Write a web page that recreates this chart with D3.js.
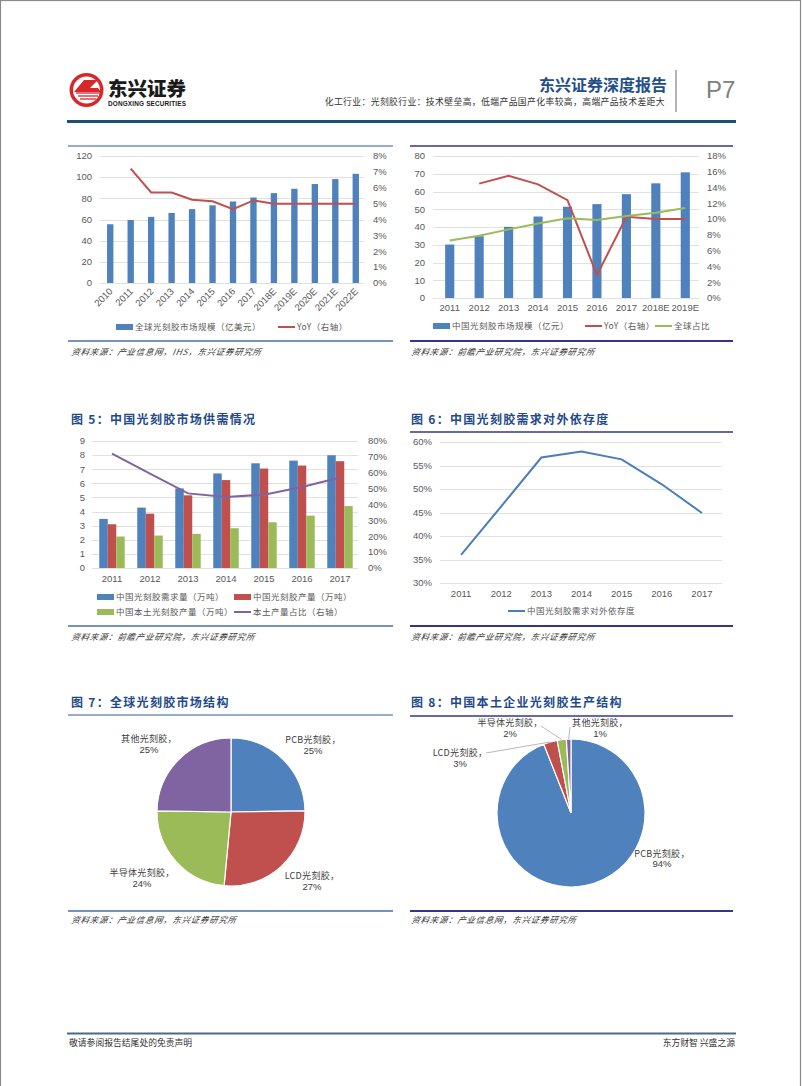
<!DOCTYPE html>
<html><head><meta charset="utf-8">
<script src="https://cdn.jsdelivr.net/npm/d3@7"></script>
<style>
body{margin:0;background:#fff}
svg{display:block}
text{font-family:"Liberation Sans",Arial,sans-serif}
.cjk{font-family:"Noto Sans CJK SC","Noto Sans",sans-serif}
</style></head><body>
<svg id="page" width="802" height="1086"></svg>
<script>
// ---------------- DATA ----------------
const c1Years = ["2010","2011","2012","2013","2014","2015","2016","2017","2018E","2019E","2020E","2021E","2022E"];
const c1Market = [55.5,59.5,62.5,66.2,69.8,73.4,77,80.8,84.9,89,93.5,98.2,103.2];
const c1YoY = [null,7.2,5.7,5.7,5.25,5.15,4.65,5.2,5.0,5.0,5.0,5.0,5.0];
const c1LeftTicks = [0,20,40,60,80,100,120];
const c1RightTicks = [0,1,2,3,4,5,6,7,8];

const c2Years = ["2011","2012","2013","2014","2015","2016","2017","2018E","2019E"];
const c2Market = [30.1,34.8,40.1,45.9,51.4,52.9,58.5,64.6,70.8];
const c2YoY = [null,14.5,15.5,14.4,12.4,2.9,10.3,10.0,10.0];
const c2Share = [7.3,7.9,8.7,9.45,10.1,9.9,10.4,10.8,11.4];
const c2LeftTicks = [0,10,20,30,40,50,60,70,80];
const c2RightTicks = [0,2,4,6,8,10,12,14,16,18];

const c5Years = ["2011","2012","2013","2014","2015","2016","2017"];
const c5Demand = [3.48,4.28,5.64,6.70,7.42,7.61,7.99];
const c5Output = [3.10,3.85,5.15,6.23,7.05,7.26,7.57];
const c5Local = [2.23,2.30,2.42,2.82,3.24,3.71,4.39];
const c5LocalShare = [72,59.5,47,44.8,46.2,51,57];
const c5LeftTicks = [0,1,2,3,4,5,6,7,8,9];
const c5RightTicks = [0,10,20,30,40,50,60,70,80];

const c6Years = ["2011","2012","2013","2014","2015","2016","2017"];
const c6Dependence = [36.0,46.3,56.7,58.0,56.3,51.0,44.9];
const c6Ticks = [30,35,40,45,50,55,60];

const c7Labels = ["PCB光刻胶","LCD光刻胶","半导体光刻胶","其他光刻胶"];
const c7Values = [25,27,24,25];
const c8Labels = ["PCB光刻胶","LCD光刻胶","半导体光刻胶","其他光刻胶"];
const c8Values = [94,3,2,1];

// ---------------- STYLE ----------------
const BLUE="#4f81bd", RED="#c0504d", GREEN="#9bbb59", PURPLE="#8064a2";
const GRID="#d9d9d9", TICK="#595959", LEGEND="#595959";
const LEFTLINE="#7393bb", RIGHTLINE="#35358f", TITLE="#1f4a8a";

const svg = d3.select("#page");

// page border
svg.append("rect").attr("x",0.5).attr("y",0.5).attr("width",800).attr("height",1100)
  .attr("fill","none").attr("stroke","#8a8a8a").attr("stroke-width",1.2);

// ---------------- HEADER ----------------
const logo = svg.append("g");
logo.append("circle").attr("cx",86.5).attr("cy",90).attr("r",17).attr("fill","#d9262a");
logo.append("circle").attr("cx",86.5).attr("cy",90).attr("r",13.5).attr("fill","#fff");
logo.append("path").attr("d","M74,92 L84,80 L98,80 L90,88 L98,88 L101,92 Z").attr("fill","#d9262a");
[0,1,2].forEach(i=>{
  logo.append("line").attr("x1",76+i*2).attr("y1",93+i*3).attr("x2",100-i*2).attr("y2",93+i*3)
    .attr("stroke","#d9262a").attr("stroke-width",1.3);
});
svg.append("text").attr("class","cjk").attr("x",108).attr("y",96).attr("font-size",19.5)
  .attr("font-weight",900).attr("fill","#1a1a1a").text("东兴证券");
svg.append("text").attr("x",108).attr("y",106).attr("font-size",6.4).attr("font-weight","bold")
  .attr("fill","#1a1a1a").attr("textLength",78).text("DONGXING SECURITIES");

svg.append("text").attr("class","cjk").attr("x",667).attr("y",91).attr("text-anchor","end")
  .attr("font-size",16).attr("font-weight",700).attr("fill","#1f4e8c").text("东兴证券深度报告");
svg.append("text").attr("class","cjk").attr("x",665).attr("y",105).attr("text-anchor","end")
  .attr("font-size",8.8).attr("fill","#333").attr("letter-spacing",0.4)
  .text("化工行业：光刻胶行业：技术壁垒高，低端产品国产化率较高，高端产品技术差距大");
svg.append("line").attr("x1",676).attr("x2",676).attr("y1",70).attr("y2",112)
  .attr("stroke","#9a9a9a").attr("stroke-width",1.5);
svg.append("text").attr("x",706).attr("y",98).attr("font-size",24).attr("fill","#808080")
  .attr("font-family","'Open Sans',sans-serif").attr("font-weight",300).text("P7");
svg.append("line").attr("x1",67).attr("x2",736).attr("y1",121.5).attr("y2",121.5)
  .attr("stroke","#1f4e79").attr("stroke-width",3);

// ---------------- HELPERS ----------------
function hline(x1,x2,y,color,w){
  svg.append("line").attr("x1",x1).attr("x2",x2).attr("y1",y).attr("y2",y)
    .attr("stroke",color).attr("stroke-width",w);
}
function title(x,y,t){
  svg.append("text").attr("class","cjk").attr("x",x).attr("y",y).attr("font-size",12)
    .attr("font-weight",700).attr("fill",TITLE).attr("letter-spacing",1.3).text(t);
}
function source(x,y,t){
  svg.append("text").attr("class","cjk").attr("x",x).attr("y",y).attr("font-size",8.5)
    .attr("font-style","italic").attr("fill","#333").attr("letter-spacing",0.7)
    .attr("transform",`skewX(-10)`).attr("transform-origin",`${x} ${y}`).text(t);
}
function grid(ticks,y,x1,x2){
  svg.append("g").selectAll("line").data(ticks).join("line")
    .attr("x1",x1).attr("x2",x2).attr("y1",d=>Math.round(y(d))+0.5).attr("y2",d=>Math.round(y(d))+0.5)
    .attr("stroke",GRID).attr("stroke-width",0.8);
}
function yLabels(ticks,y,x,anchor,fmt){
  svg.append("g").selectAll("text").data(ticks).join("text")
    .attr("x",x).attr("y",d=>y(d)).attr("dy","0.35em").attr("text-anchor",anchor)
    .attr("font-size",9.5).attr("fill",TICK).text(fmt);
}
function xLabels(cats,x,y){
  svg.append("g").selectAll("text").data(cats).join("text")
    .attr("x",d=>x(d)+x.bandwidth()/2).attr("y",y).attr("text-anchor","middle")
    .attr("font-size",9.5).attr("fill",TICK).text(d=>d);
}
function legRect(x,y,color,t){
  svg.append("rect").attr("x",x).attr("y",y-3).attr("width",17).attr("height",6).attr("fill",color);
  svg.append("text").attr("class","cjk").attr("x",x+19).attr("y",y).attr("dy","0.35em")
    .attr("font-size",8.5).attr("letter-spacing",0.5).attr("fill",LEGEND).text(t);
}
function legLine(x,y,color,t){
  svg.append("line").attr("x1",x).attr("x2",x+17).attr("y1",y).attr("y2",y)
    .attr("stroke",color).attr("stroke-width",2);
  svg.append("text").attr("class","cjk").attr("x",x+19).attr("y",y).attr("dy","0.35em")
    .attr("font-size",8.5).attr("letter-spacing",0.5).attr("fill",LEGEND).text(t);
}
const pct = d=>d+"%";

// ---------------- CHART 1 ----------------
hline(68,393,146,LEFTLINE,1.5);
{
  const x = d3.scaleBand().domain(c1Years).range([100,366]).paddingInner(0.69).paddingOuter(0.345);
  const yL = d3.scaleLinear().domain([0,120]).range([283,156]);
  const yR = d3.scaleLinear().domain([0,8]).range([283,156]);
  grid(c1LeftTicks,yL,100,364);
  yLabels(c1LeftTicks,yL,92,"end",d=>d);
  yLabels(c1RightTicks,yR,373,"start",pct);
  svg.append("g").selectAll("rect").data(c1Market).join("rect")
    .attr("x",(d,i)=>x(c1Years[i])).attr("width",x.bandwidth())
    .attr("y",d=>yL(d)).attr("height",d=>yL(0)-yL(d)).attr("fill",BLUE);
  const line = d3.line().defined(d=>d[1]!=null)
    .x(d=>x(d[0])+x.bandwidth()/2).y(d=>yR(d[1]));
  svg.append("path").datum(c1Years.map((c,i)=>[c,c1YoY[i]])).attr("d",line)
    .attr("fill","none").attr("stroke",RED).attr("stroke-width",2);
  svg.append("g").selectAll("text").data(c1Years).join("text")
    .attr("transform",d=>`translate(${x(d)+x.bandwidth()/2+3},${292}) rotate(-45)`)
    .attr("text-anchor","end").attr("font-size",9.5).attr("fill",TICK).text(d=>d);
  legRect(116,327,BLUE,"全球光刻胶市场规模（亿美元）");
  legLine(278,327,RED,"YoY（右轴）");
}
hline(68,393,341,LEFTLINE,2);
source(71,355,"资料来源：产业信息网，IHS，东兴证券研究所");

// ---------------- CHART 2 ----------------
hline(410,733,146,RIGHTLINE,1.5);
{
  const x = d3.scaleBand().domain(c2Years).range([435,700]).paddingInner(0.69).paddingOuter(0.345);
  const yL = d3.scaleLinear().domain([0,80]).range([298,156]);
  const yR = d3.scaleLinear().domain([0,18]).range([298,156]);
  grid(c2LeftTicks,yL,433,699);
  yLabels(c2LeftTicks,yL,425,"end",d=>d);
  yLabels(c2RightTicks,yR,707,"start",pct);
  svg.append("g").selectAll("rect").data(c2Market).join("rect")
    .attr("x",(d,i)=>x(c2Years[i])).attr("width",x.bandwidth())
    .attr("y",d=>yL(d)).attr("height",d=>yL(0)-yL(d)).attr("fill",BLUE);
  const line = d3.line().defined(d=>d[1]!=null)
    .x(d=>x(d[0])+x.bandwidth()/2).y(d=>yR(d[1]));
  svg.append("path").datum(c2Years.map((c,i)=>[c,c2YoY[i]])).attr("d",line)
    .attr("fill","none").attr("stroke",RED).attr("stroke-width",2);
  svg.append("path").datum(c2Years.map((c,i)=>[c,c2Share[i]])).attr("d",line)
    .attr("fill","none").attr("stroke",GREEN).attr("stroke-width",2);
  xLabels(c2Years,x,311);
  legRect(433,326,BLUE,"中国光刻胶市场规模（亿元）");
  legLine(585,326,RED,"YoY（右轴）");
  legLine(655,326,GREEN,"全球占比");
}
hline(410,733,341,RIGHTLINE,2);
source(411,355,"资料来源：前瞻产业研究院，东兴证券研究所");

// ---------------- CHART 5 ----------------
title(71,424,"图 5：中国光刻胶市场供需情况");
{
  const x = d3.scaleBand().domain(c5Years).range([93,359]).paddingInner(0.33).paddingOuter(0.165);
  const sub = d3.scaleBand().domain(["demand","output","local"]).range([0,x.bandwidth()]);
  const yL = d3.scaleLinear().domain([0,9]).range([568,441]);
  const yR = d3.scaleLinear().domain([0,80]).range([568,441]);
  grid(c5LeftTicks,yL,92,358);
  yLabels(c5LeftTicks,yL,85,"end",d=>d);
  yLabels(c5RightTicks,yR,368,"start",pct);
  const series = [["demand",c5Demand,BLUE],["output",c5Output,RED],["local",c5Local,GREEN]];
  series.forEach(([k,vals,col])=>{
    svg.append("g").selectAll("rect").data(vals).join("rect")
      .attr("x",(d,i)=>x(c5Years[i])+sub(k)).attr("width",sub.bandwidth())
      .attr("y",d=>yL(d)).attr("height",d=>yL(0)-yL(d)).attr("fill",col);
  });
  const line = d3.line().x(d=>x(d[0])+x.bandwidth()/2).y(d=>yR(d[1]));
  svg.append("path").datum(c5Years.map((c,i)=>[c,c5LocalShare[i]])).attr("d",line)
    .attr("fill","none").attr("stroke",PURPLE).attr("stroke-width",2);
  xLabels(c5Years,x,582);
  legRect(97,597,BLUE,"中国光刻胶需求量（万吨）");
  legRect(234,597,RED,"中国光刻胶产量（万吨）");
  legRect(97,612,GREEN,"中国本土光刻胶产量（万吨）");
  legLine(234,612,PURPLE,"本土产量占比（右轴）");
}
hline(68,393,626,LEFTLINE,2);
source(71,640,"资料来源：前瞻产业研究院，东兴证券研究所");

// ---------------- CHART 6 ----------------
title(411,424,"图 6：中国光刻胶需求对外依存度");
hline(410,733,432,RIGHTLINE,1.5);
{
  const x = d3.scaleBand().domain(c6Years).range([441,722]);
  const y = d3.scaleLinear().domain([30,60]).range([583,442]);
  grid(c6Ticks,y,440,722);
  yLabels(c6Ticks,y,432,"end",pct);
  const line = d3.line().x(d=>x(d[0])+x.bandwidth()/2).y(d=>y(d[1]));
  svg.append("path").datum(c6Years.map((c,i)=>[c,c6Dependence[i]])).attr("d",line)
    .attr("fill","none").attr("stroke","#4a7ebb").attr("stroke-width",2);
  xLabels(c6Years,x,597);
  legLine(508,611,"#4a7ebb","中国光刻胶需求对外依存度");
}
hline(410,733,626,RIGHTLINE,2);
source(411,640,"资料来源：前瞻产业研究院，东兴证券研究所");

// ---------------- PIE helper ----------------
const PIECOLORS = [BLUE,RED,GREEN,PURPLE];
function pieChart(cx,cy,r,labels,values,labelPos,leaders){
  const pie = d3.pie().sort(null).value(d=>d)(values);
  const arc = d3.arc().innerRadius(0).outerRadius(r);
  const g = svg.append("g").attr("transform",`translate(${cx},${cy})`);
  g.selectAll("path").data(pie).join("path").attr("d",arc)
    .attr("fill",(d,i)=>PIECOLORS[i]).attr("stroke","#fff").attr("stroke-width",1.2);
  pie.forEach((p,i)=>{
    const [lx,ly1,ly2] = labelPos[i];
    svg.append("text").attr("class","cjk").attr("x",lx).attr("y",ly1).attr("dy","0.35em")
      .attr("text-anchor","middle").attr("font-size",9).attr("letter-spacing",0.3)
      .attr("fill","#404040").text(labels[i]+"，");
    svg.append("text").attr("x",lx).attr("y",ly2).attr("dy","0.35em")
      .attr("text-anchor","middle").attr("font-size",9.5).attr("fill","#404040").text(values[i]+"%");
    if(leaders && leaders[i]){
      const a = (p.startAngle+p.endAngle)/2;
      const sx = cx + r*Math.sin(a), sy = cy - r*Math.cos(a);
      svg.append("line").attr("x1",sx).attr("y1",sy).attr("x2",leaders[i][0]).attr("y2",leaders[i][1])
        .attr("stroke","#a6a6a6").attr("stroke-width",0.8);
    }
  });
}

// ---------------- CHART 7 ----------------
title(71,707,"图 7：全球光刻胶市场结构");
hline(68,393,715,LEFTLINE,1.5);
pieChart(231,812,74,c7Labels,c7Values,
  [[313,740,751],[312,876,887],[142,873,884],[149,739,750]],null);
hline(68,393,911,LEFTLINE,2);
source(71,923,"资料来源：产业信息网，东兴证券研究所");

// ---------------- CHART 8 ----------------
title(411,707,"图 8：中国本土企业光刻胶生产结构");
hline(410,733,716,RIGHTLINE,1.5);
pieChart(571,813,74,c8Labels,c8Values,
  [[662,854,864],[460,753,764],[510,723,734],[600,723,734]],
  [null,[486,753],[541,726],[570,727]]);
hline(410,733,911,RIGHTLINE,2);
source(411,923,"资料来源：产业信息网，东兴证券研究所");

// ---------------- FOOTER ----------------
hline(67,736,1033.5,"#4a6a8c",2);
svg.append("text").attr("class","cjk").attr("x",69).attr("y",1046).attr("font-size",8.8)
  .attr("fill","#333").text("敬请参阅报告结尾处的免责声明");
svg.append("text").attr("class","cjk").attr("x",735).attr("y",1046).attr("text-anchor","end")
  .attr("font-size",8.8).attr("fill","#333").text("东方财智 兴盛之源");
</script>
</body></html>
